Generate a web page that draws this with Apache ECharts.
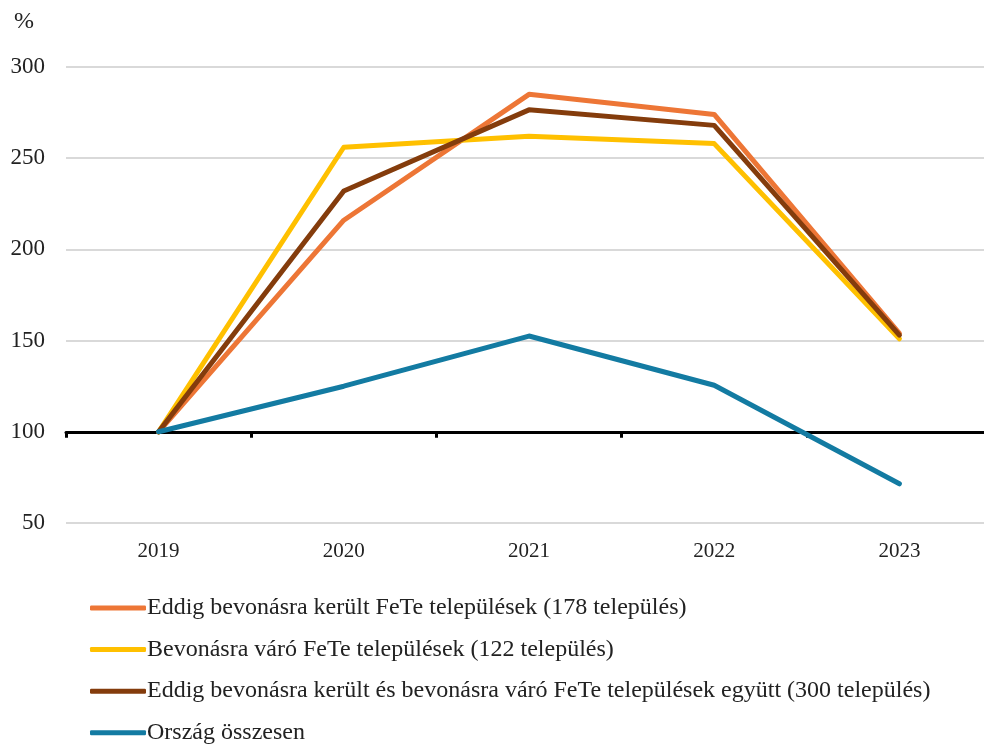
<!DOCTYPE html>
<html><head><meta charset="utf-8">
<script src="https://cdn.jsdelivr.net/npm/echarts@6/dist/echarts.min.js"></script>
<style>html,body{margin:0;padding:0;background:#fff;overflow:hidden}#c{width:1000px;height:744px}</style>
</head><body><div id="c"></div>
<script>
const years = ['2019','2020','2021','2022','2023'];
const seriesNames = [
  'Eddig bevonásra került FeTe települések (178 település)',
  'Bevonásra váró FeTe települések (122 település)',
  'Eddig bevonásra került és bevonásra váró FeTe települések együtt (300 település)',
  'Ország összesen'
];
const eddig = [100, 216, 285, 274, 154];
const varo = [100, 256, 262, 258, 151];
const egyutt = [100, 232, 276.5, 268, 153];
const orszag = [100, 125, 152.5, 125.5, 71.5];
const colors = ['#ED7636', '#FFC000', '#843C0C', '#137BA2'];
const yTicks = {min: 50, max: 300, interval: 50};

const font = 'Liberation Serif';
const chart = echarts.init(document.getElementById('c'));
const mk = (i, d) => ({
  name: seriesNames[i], type: 'line', data: d, symbol: 'none',
  lineStyle: {width: 5, color: colors[i], cap: 'round', join: 'round'},
  itemStyle: {color: colors[i]}, xAxisIndex: 0
});
chart.setOption({
  animation: false,
  textStyle: {fontFamily: font},
  grid: {left: 66, right: 8, top: 67, bottom: 221, containLabel: false},
  graphic: [{type: 'text', left: 14, top: 10, style: {text: '%', font: '24px "Liberation Serif"', fill: '#222'}}],
  xAxis: [
    {type: 'category', data: years, boundaryGap: true,
     axisLine: {show: false}, axisTick: {show: false},
     axisLabel: {fontFamily: font, fontSize: 21, color: '#222', margin: 18}},
    {type: 'category', data: years, boundaryGap: true, position: 'bottom', offset: -91.2,
     axisLine: {show: true, lineStyle: {color: '#000', width: 3}},
     axisTick: {show: true, length: 6, lineStyle: {color: '#000', width: 3}},
     axisLabel: {show: false}}
  ],
  yAxis: {type: 'value', min: yTicks.min, max: yTicks.max, interval: yTicks.interval,
    axisLine: {show: false}, axisTick: {show: false},
    splitLine: {lineStyle: {color: '#d9d9d9', width: 2}},
    axisLabel: {fontFamily: font, fontSize: 23, color: '#222', margin: 21}},
  legend: {orient: 'vertical', left: 85, top: 591, height: 160, itemGap: 17.6, itemWidth: 56, itemHeight: 5,
    icon: 'roundRect', textStyle: {fontFamily: font, fontSize: 24, lineHeight: 24, color: '#222', padding: [0,0,0,-4]},
    data: seriesNames.map(n => ({name: n, icon: 'roundRect'}))},
  series: [mk(0, eddig), mk(1, varo), mk(2, egyutt), mk(3, orszag)]
});
</script></body></html>
